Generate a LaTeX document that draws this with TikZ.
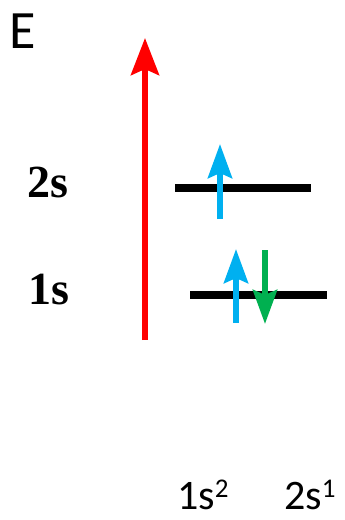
\documentclass[tikz,border=0pt]{standalone}
\usepackage{fontspec}
\setmainfont{Carlito}
\newfontfamily\timesfont{Liberation Serif}
\usetikzlibrary{arrows.meta}
\definecolor{spinblue}{RGB}{0,176,240}
\definecolor{spingreen}{RGB}{0,176,80}
\newcommand{\supnum}[1]{\raisebox{12pt}{\fontsize{27}{28}\selectfont #1}}
\tikzset{
  level/.style={line width=8pt, black},
  spin/.style={line width=6pt, -{Stealth[length=34pt, width=24pt, inset=5pt]}},
  orbital/.style={inner sep=0pt, anchor=base west, font=\timesfont\bfseries\fontsize{46}{50}\selectfont},
  config/.style={inner sep=0pt, anchor=base west, font=\fontsize{42}{46}\selectfont}
}
\begin{document}
\begin{tikzpicture}[x=1pt, y=-1pt]
\useasboundingbox (0,0) rectangle (345,520);
% energy axis
\node[inner sep=0pt, anchor=base west, font=\fontsize{54}{60}\selectfont] (energy) at (9,48) {E};
\coordinate (axisbot) at (145,340);
\coordinate (axistop) at (145,38);
\draw[red, line width=6pt, -{Stealth[length=37pt, width=28pt, inset=6pt]}] (axisbot) -- (axistop);
% levels
\node[orbital] (lab2s) at (27,197) {2s};
\node[orbital] (lab1s) at (28,304) {1s};
\coordinate (l2a) at (175,188);
\coordinate (l2b) at (311,188);
\coordinate (l1a) at (190,295);
\coordinate (l1b) at (327,295);
\draw[level] (l2a) -- (l2b);
\draw[level] (l1a) -- (l1b);
% electrons
\coordinate (e2bot) at (220,219);
\coordinate (e2top) at (220,144);
\coordinate (e1bot) at (236,323);
\coordinate (e1top) at (236,249);
\coordinate (e1dtop) at (265,250);
\coordinate (e1dbot) at (265,324);
\draw[spin, spinblue] (e2bot) -- (e2top);
\draw[spin, spinblue] (e1bot) -- (e1top);
\draw[spin, spingreen] (e1dtop) -- (e1dbot);
% configuration
\node[config] (conf1) at (177,509) {1s\supnum{2}};
\node[config] (conf2) at (284,509) {2s\supnum{1}};
\end{tikzpicture}
\end{document}
